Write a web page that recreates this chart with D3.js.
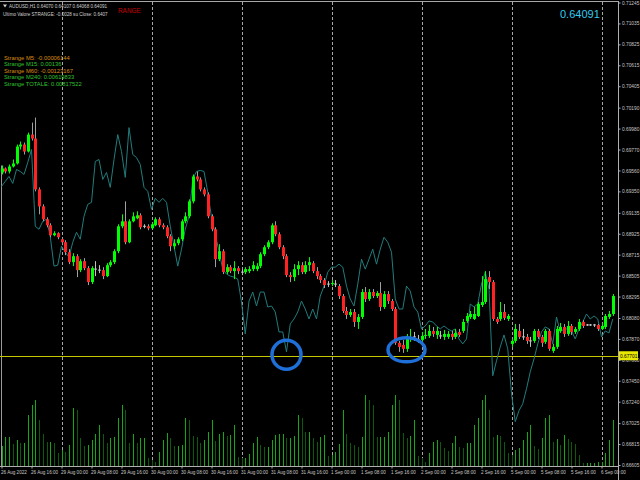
<!DOCTYPE html>
<html><head><meta charset="utf-8">
<script src="https://cdn.jsdelivr.net/npm/d3@7"></script>
<style>body{margin:0;background:#000;}svg{display:block}</style>
</head><body>
<svg id="c" width="640" height="480"></svg>
<script>
// ---------- DATA ----------
const open = [0.6954,0.6958,0.6955,0.6960,0.6963,0.6980,0.6982,0.6975,0.6992,0.6988,
0.6937,0.6920,0.6907,0.6901,0.6891,0.6893,0.6887,0.6884,0.6874,0.6864,
0.6870,0.6856,0.6865,0.6858,0.6844,0.6857,0.6856,0.6856,0.6850,0.6861,
0.6864,0.6875,0.6900,0.6905,0.6884,0.6905,0.6908,0.6911,0.6900,0.6900,
0.6898,0.6901,0.6907,0.6901,0.6899,0.6890,0.6880,0.6883,0.6887,0.6905,
0.6910,0.6925,0.6950,0.6947,0.6937,0.6932,0.6910,0.6897,0.6867,0.6875,
0.6854,0.6859,0.6855,0.6858,0.6854,0.6854,0.6855,0.6857,0.6857,0.6860,
0.6872,0.6879,0.6884,0.6901,0.6892,0.6879,0.6870,0.6851,0.6849,0.6857,
0.6861,0.6854,0.6861,0.6863,0.6855,0.6850,0.6846,0.6842,0.6842,0.6842,
0.6840,0.6830,0.6815,0.6811,0.6814,0.6804,0.6809,0.6834,0.6827,0.6834,
0.6830,0.6833,0.6819,0.6832,0.6825,0.6817,0.6783,0.6781,0.6777,0.6787,
0.6789,0.6786,0.6786,0.6790,0.6790,0.6795,0.6791,0.6790,0.6789,0.6789,
0.6792,0.6789,0.6794,0.6795,0.6805,0.6809,0.6807,0.6810,0.6821,0.6824,
0.6849,0.6844,0.6807,0.6807,0.6814,0.6807,0.6782,0.6785,0.6795,0.6789,
0.6789,0.6785,0.6785,0.6795,0.6789,0.6784,0.6795,0.6775,0.6779,0.6795,
0.6799,0.6792,0.6800,0.6794,0.6797,0.6804,0.6801,0.6801,0.6801,0.6801,
0.6797,0.6799,0.6809,0.6812];
const high = [0.6961,0.6959,0.6962,0.6967,0.6982,0.6985,0.6984,0.6994,0.7004,0.7009,
0.6939,0.6922,0.6909,0.6903,0.6895,0.6894,0.6889,0.6886,0.6877,0.6873,
0.6872,0.6867,0.6868,0.6860,0.6860,0.6865,0.6861,0.6859,0.6863,0.6866,
0.6877,0.6902,0.6912,0.6925,0.6907,0.6914,0.6915,0.6913,0.6902,0.6902,
0.6904,0.6909,0.6909,0.6903,0.6901,0.6892,0.6887,0.6889,0.6907,0.6914,
0.6927,0.6952,0.6955,0.6949,0.6939,0.6934,0.6912,0.6899,0.6882,0.6877,
0.6862,0.6861,0.6865,0.6860,0.6857,0.6859,0.6860,0.6865,0.6863,0.6874,
0.6881,0.6886,0.6903,0.6905,0.6894,0.6881,0.6872,0.6854,0.6862,0.6865,
0.6864,0.6865,0.6869,0.6865,0.6859,0.6852,0.6848,0.6845,0.6846,0.6846,
0.6842,0.6832,0.6819,0.6817,0.6817,0.6812,0.6837,0.6839,0.6837,0.6837,
0.6835,0.6844,0.6835,0.6835,0.6827,0.6819,0.6785,0.6786,0.6792,0.6797,
0.6794,0.6791,0.6794,0.6797,0.6801,0.6799,0.6799,0.6795,0.6796,0.6795,
0.6795,0.6797,0.6797,0.6807,0.6813,0.6815,0.6819,0.6824,0.6850,0.6855,
0.6855,0.6846,0.6809,0.6824,0.6822,0.6812,0.6787,0.6802,0.6802,0.6797,
0.6792,0.6789,0.6797,0.6797,0.6791,0.6797,0.6797,0.6782,0.6800,0.6803,
0.6802,0.6805,0.6802,0.6799,0.6807,0.6806,0.6802,0.6802,0.6802,0.6802,
0.6803,0.6812,0.6815,0.6832];
const low = [0.6952,0.6953,0.6953,0.6959,0.6962,0.6977,0.6972,0.6974,0.6986,0.6935,
0.6912,0.6905,0.6899,0.6889,0.6890,0.6887,0.6881,0.6871,0.6862,0.6860,
0.6849,0.6854,0.6856,0.6841,0.6842,0.6850,0.6853,0.6847,0.6849,0.6859,
0.6862,0.6873,0.6898,0.6882,0.6883,0.6904,0.6907,0.6897,0.6898,0.6896,
0.6897,0.6900,0.6899,0.6897,0.6888,0.6875,0.6877,0.6881,0.6885,0.6903,
0.6908,0.6923,0.6945,0.6935,0.6930,0.6908,0.6895,0.6859,0.6865,0.6852,
0.6852,0.6853,0.6847,0.6852,0.6851,0.6852,0.6853,0.6855,0.6855,0.6858,
0.6870,0.6877,0.6882,0.6890,0.6877,0.6867,0.6849,0.6844,0.6845,0.6851,
0.6852,0.6852,0.6855,0.6853,0.6847,0.6843,0.6838,0.6839,0.6840,0.6839,
0.6827,0.6813,0.6807,0.6809,0.6799,0.6797,0.6807,0.6824,0.6825,0.6828,
0.6828,0.6815,0.6817,0.6822,0.6815,0.6781,0.6774,0.6773,0.6774,0.6784,
0.6785,0.6783,0.6784,0.6787,0.6788,0.6789,0.6787,0.6787,0.6786,0.6787,
0.6786,0.6787,0.6789,0.6793,0.6803,0.6807,0.6806,0.6809,0.6819,0.6822,
0.6837,0.6805,0.6802,0.6805,0.6806,0.6805,0.6779,0.6783,0.6787,0.6786,
0.6782,0.6779,0.6783,0.6787,0.6779,0.6782,0.6775,0.6773,0.6777,0.6793,
0.6789,0.6790,0.6791,0.6792,0.6795,0.6798,0.6800,0.6800,0.6799,0.6795,
0.6796,0.6797,0.6807,0.6810];
const close = [0.6958,0.6955,0.6960,0.6963,0.6980,0.6982,0.6975,0.6992,0.6988,0.6937,
0.6920,0.6907,0.6901,0.6891,0.6893,0.6889,0.6884,0.6874,0.6864,0.6870,
0.6856,0.6865,0.6858,0.6844,0.6858,0.6857,0.6856,0.6850,0.6861,0.6864,
0.6875,0.6900,0.6905,0.6884,0.6905,0.6910,0.6911,0.6899,0.6900,0.6898,
0.6902,0.6907,0.6901,0.6899,0.6890,0.6880,0.6883,0.6887,0.6905,0.6910,
0.6925,0.6950,0.6947,0.6937,0.6932,0.6910,0.6897,0.6867,0.6875,0.6854,
0.6859,0.6855,0.6858,0.6855,0.6854,0.6857,0.6857,0.6861,0.6860,0.6872,
0.6879,0.6884,0.6901,0.6892,0.6879,0.6870,0.6851,0.6849,0.6857,0.6861,
0.6854,0.6861,0.6864,0.6855,0.6850,0.6846,0.6841,0.6842,0.6843,0.6842,
0.6830,0.6815,0.6811,0.6814,0.6804,0.6809,0.6834,0.6827,0.6834,0.6830,
0.6833,0.6819,0.6832,0.6825,0.6817,0.6783,0.6779,0.6777,0.6788,0.6789,
0.6789,0.6786,0.6790,0.6791,0.6795,0.6792,0.6795,0.6790,0.6792,0.6792,
0.6789,0.6793,0.6791,0.6804,0.6810,0.6812,0.6812,0.6822,0.6824,0.6847,
0.6844,0.6807,0.6804,0.6814,0.6808,0.6810,0.6785,0.6797,0.6789,0.6789,
0.6785,0.6785,0.6795,0.6789,0.6783,0.6795,0.6777,0.6779,0.6797,0.6799,
0.6792,0.6800,0.6794,0.6797,0.6804,0.6800,0.6801,0.6801,0.6801,0.6797,
0.6800,0.6810,0.6812,0.6830];
const strangeLine = [0.6940,0.6945,0.6950,0.6943,0.6957,0.6955,0.6952,0.6964,0.6977,0.6900,
0.6897,0.6905,0.6907,0.6890,0.6860,0.6861,0.6880,0.6874,0.6869,0.6884,
0.6894,0.6887,0.6910,0.6922,0.6924,0.6965,0.6967,0.6947,0.6954,0.6939,
0.6967,0.6992,0.6975,0.6949,0.6999,0.6972,0.6969,0.6962,0.6939,0.6935,
0.6917,0.6928,0.6924,0.6928,0.6924,0.6900,0.6880,0.6860,0.6877,0.6897,
0.6910,0.6947,0.6955,0.6956,0.6955,0.6934,0.6909,0.6892,0.6875,0.6857,
0.6852,0.6850,0.6849,0.6847,0.6824,0.6792,0.6825,0.6834,0.6820,0.6834,
0.6834,0.6819,0.6820,0.6814,0.6794,0.6794,0.6774,0.6802,0.6807,0.6814,
0.6825,0.6817,0.6807,0.6817,0.6807,0.6830,0.6840,0.6854,0.6859,0.6859,
0.6862,0.6859,0.6840,0.6827,0.6820,0.6842,0.6867,0.6857,0.6867,0.6877,
0.6862,0.6877,0.6889,0.6884,0.6874,0.6827,0.6817,0.6817,0.6840,0.6835,
0.6819,0.6814,0.6797,0.6800,0.6805,0.6804,0.6800,0.6797,0.6800,0.6797,
0.6795,0.6797,0.6787,0.6782,0.6787,0.6822,0.6819,0.6822,0.6842,0.6854,
0.6837,0.6750,0.6765,0.6779,0.6791,0.6777,0.6732,0.6704,0.6715,0.6722,
0.6737,0.6754,0.6767,0.6782,0.6794,0.6799,0.6797,0.6782,0.6809,0.6794,
0.6797,0.6797,0.6795,0.6787,0.6797,0.6804,0.6812,0.6807,0.6810,0.6807,
0.6789,0.6795,0.6793,0.6807];
const volume = [2000,2900,2900,2200,2600,2300,2300,5100,6100,6600,
4600,3200,2400,2400,2300,1300,1600,1400,2100,5800,
5600,2800,2000,2100,2600,3200,4100,3200,2300,2800,
2900,4800,6100,5600,2300,3200,2300,2800,2800,800,
600,400,1400,2600,3300,2800,2000,2000,2100,4800,
4600,3000,2900,2300,2600,3400,4600,2500,3200,3400,
3000,3100,4100,900,800,800,1200,2300,2900,2100,
1900,1900,2600,3100,3200,3200,2800,2800,3000,5100,
4800,3400,3400,2800,2400,2900,3100,1000,1100,1400,
2200,5600,3200,2300,2100,1900,2900,7100,6600,6100,
2900,2900,2900,3400,6100,7100,6600,3300,2800,3000,
4600,1000,800,400,1300,2400,2600,2400,1800,1500,
2300,3000,1900,1800,2300,2300,4100,4800,6600,7100,
5600,2900,3100,3000,2400,1300,1100,1600,1800,2600,
3400,4100,2000,1700,2800,4800,5100,2400,2700,2100,
3100,2700,2400,2200,1100,300,300,300,300,400,
400,1300,2600,4600];
const priceTicks = [0.71245,0.71035,0.70825,0.70615,0.70405,0.70190,0.69980,0.69770,0.69560,0.69350,0.69135,0.68925,0.68715,0.68505,0.68295,0.68080,0.67870,0.67660,0.67450,0.67240,0.67025,0.66815,0.66605];
const timeTickIndex = [0,8,16,24,32,40,48,56,64,72,80,88,96,104,112,120,128,136,144,152,160];
const timeTickLabels = ["26 Aug 2022","26 Aug 16:00","29 Aug 00:00","29 Aug 08:00","29 Aug 16:00","30 Aug 00:00","30 Aug 08:00","30 Aug 16:00","31 Aug 00:00","31 Aug 08:00","31 Aug 16:00","1 Sep 00:00","1 Sep 08:00","1 Sep 16:00","2 Sep 00:00","2 Sep 08:00","2 Sep 16:00","5 Sep 00:00","5 Sep 08:00","5 Sep 16:00","6 Sep 00:00"];
const daySeparatorIndex = [16,40,64,88,112,136,160];
const levelPrice = 0.67701;
const circleMarks = [{bar:76,price:0.6771},{bar:108,price:0.6776}];
const headerText = "AUDUSD,H1  0.64070 0.64107 0.64068 0.64091";
const lastValueText = "Ultimo Valore STRANGE: -0.0028    su Close: 0.6407";
const bigPrice = "0.64091";
const strangeLabels = ["Strange M5: -0.00006144","Strange M15: 0.00136","Strange M60: -0.00123167","Strange M240: 0.00619833","Strange TOTALE: 0.00817522"];
const strangeSigns = [-1,1,-1,1,1];

// ---------- DRAW ----------
const svg = d3.select("#c");
const W = 640, H = 480, axisX = 618, baseY = 466;
svg.append("rect").attr("width",W).attr("height",H).attr("fill","#000");

const x = d3.scaleLinear().domain([0, open.length-1]).range([1.5, 612.75]);
const y = d3.scaleLinear().domain([0.66605, 0.71245]).range([465, 2.5]);
const vy = d3.scaleLinear().domain([0, 10000]).range([baseY, baseY-100]);
const FONT = "'Liberation Sans', Arial, sans-serif";

// frame
svg.append("line").attr("x1",0).attr("x2",axisX).attr("y1",1.5).attr("y2",1.5).attr("stroke","#a8a8a8").attr("stroke-width",1);
// left vertical line
svg.append("line").attr("x1",1.5).attr("x2",1.5).attr("y1",y(high[0])).attr("y2",baseY).attr("stroke","#9a9a9a").attr("stroke-width",1);

// day separators
svg.append("g").selectAll("line").data(daySeparatorIndex).join("line")
  .attr("x1",d=>Math.round(x(d))+0.5).attr("x2",d=>Math.round(x(d))+0.5)
  .attr("y1",2).attr("y2",baseY)
  .attr("stroke","#a8a8a8").attr("stroke-width",1).attr("stroke-dasharray","3,2");

// volumes
const bars = d3.range(open.length);
svg.append("g").attr("shape-rendering","crispEdges").selectAll("rect").data(bars).join("rect")
  .attr("x",i=>Math.round(x(i))).attr("width",1)
  .attr("y",i=>vy(volume[i])).attr("height",i=>baseY-vy(volume[i]))
  .attr("fill",i=> (i===0 || volume[i]>=volume[i-1]) ? "#14a814" : "#0c5a0c");

// level line
svg.append("line").attr("x1",0).attr("x2",axisX).attr("y1",Math.round(y(levelPrice))+0.5).attr("y2",Math.round(y(levelPrice))+0.5)
  .attr("stroke","#c8c800").attr("stroke-width",1);

// strange line
svg.append("path").datum(bars)
  .attr("d", d3.line().x(i=>x(i)).y(i=>y(strangeLine[i])))
  .attr("fill","none").attr("stroke","#227c7c").attr("stroke-width",1);

// candles
const upC = "#00ff00", dnC = "#ff2222", dojiC = "#c0c0c0";
const cg = svg.append("g");
bars.forEach(i=>{
  const o=open[i], c=close[i];
  const cx = Math.round(x(i))+0.5;
  const up = c>o, dn = c<o;
  const wickCol = up ? upC : (dn ? "#a0a0a0" : dojiC);
  cg.append("line").attr("x1",cx).attr("x2",cx).attr("y1",y(high[i])).attr("y2",y(low[i]))
    .attr("stroke",wickCol).attr("stroke-width",1);
  if (up || dn) {
    const t = y(Math.max(o,c)), b = y(Math.min(o,c));
    cg.append("rect").attr("x",cx-1.5).attr("width",3).attr("y",t).attr("height",Math.max(1,b-t))
      .attr("fill", up?upC:dnC);
  } else {
    cg.append("line").attr("x1",cx-1.5).attr("x2",cx+1.5).attr("y1",y(o)).attr("y2",y(o))
      .attr("stroke",dojiC).attr("stroke-width",1);
  }
});

// annotation circles
svg.append("g").selectAll("ellipse").data(circleMarks).join("ellipse")
  .attr("cx",d=>x(d.bar)).attr("cy",d=>y(d.price))
  .attr("rx",(d,i)=> i===0?14.5:18.5).attr("ry",(d,i)=> i===0?14.5:12)
  .attr("fill","none").attr("stroke","#1f6fd8").attr("stroke-width",3.5);

// right axis
const ra = svg.append("g").attr("transform",`translate(${axisX+0.5},0)`)
  .call(d3.axisRight(y).tickValues(priceTicks).tickFormat(d3.format(".5f")).tickSize(2).tickPadding(1.5));
ra.select(".domain").attr("stroke","#b0b0b0").attr("d",`M0,1V${H}`);
ra.selectAll(".tick line").attr("stroke","#b0b0b0");
ra.selectAll(".tick text").attr("fill","#c8c8c8").style("font-family",FONT).style("font-size","4.8px");

// level price label
const ly = y(levelPrice);
svg.append("rect").attr("x",axisX+1).attr("y",ly-4.5).attr("width",19).attr("height",9).attr("fill","#e8e800");
svg.append("text").attr("x",axisX+2).attr("y",ly+1.8).text(d3.format(".5f")(levelPrice))
  .attr("fill","#000").style("font-family",FONT).style("font-size","4.8px");

// bottom axis
const ba = svg.append("g").attr("transform",`translate(0,${baseY+0.5})`)
  .call(d3.axisBottom(x).tickValues(timeTickIndex).tickFormat((d,i)=>timeTickLabels[i]).tickSize(2).tickPadding(2.5));
ba.select(".domain").attr("stroke","#b0b0b0").attr("d",`M0,0H${axisX}`);
ba.selectAll(".tick line").attr("stroke","#b0b0b0");
ba.selectAll(".tick text").attr("fill","#c8c8c8").attr("text-anchor","start").attr("dx","-1")
  .style("font-family",FONT).style("font-size","4.6px");

// header texts
svg.append("path").attr("d","M3,4.5 L7,4.5 L5,7.5 Z").attr("fill","#d0d0d0");
svg.append("text").attr("x",9).attr("y",7.8).text(headerText)
  .attr("fill","#d0d0d0").style("font-family",FONT).style("font-size","4.6px");
svg.append("text").attr("x",3).attr("y",16.2).text(lastValueText)
  .attr("fill","#d0d0d0").style("font-family",FONT).style("font-size","4.6px");
svg.append("text").attr("x",118).attr("y",12.6).text("RANGE")
  .attr("fill","#cc0000").style("font-family",FONT).style("font-size","6.4px");
svg.append("text").attr("x",560).attr("y",17.5).text(bigPrice)
  .attr("fill","#33ccee").style("font-family",FONT).style("font-size","11px");

svg.append("g").selectAll("text").data(strangeLabels).join("text")
  .attr("x",4).attr("y",(d,i)=>59.5+i*6.5).text(d=>d)
  .attr("fill",(d,i)=> strangeSigns[i]<0 ? "#d98c10" : "#30c030")
  .style("font-family",FONT).style("font-size","5.8px");
</script>
</body></html>
